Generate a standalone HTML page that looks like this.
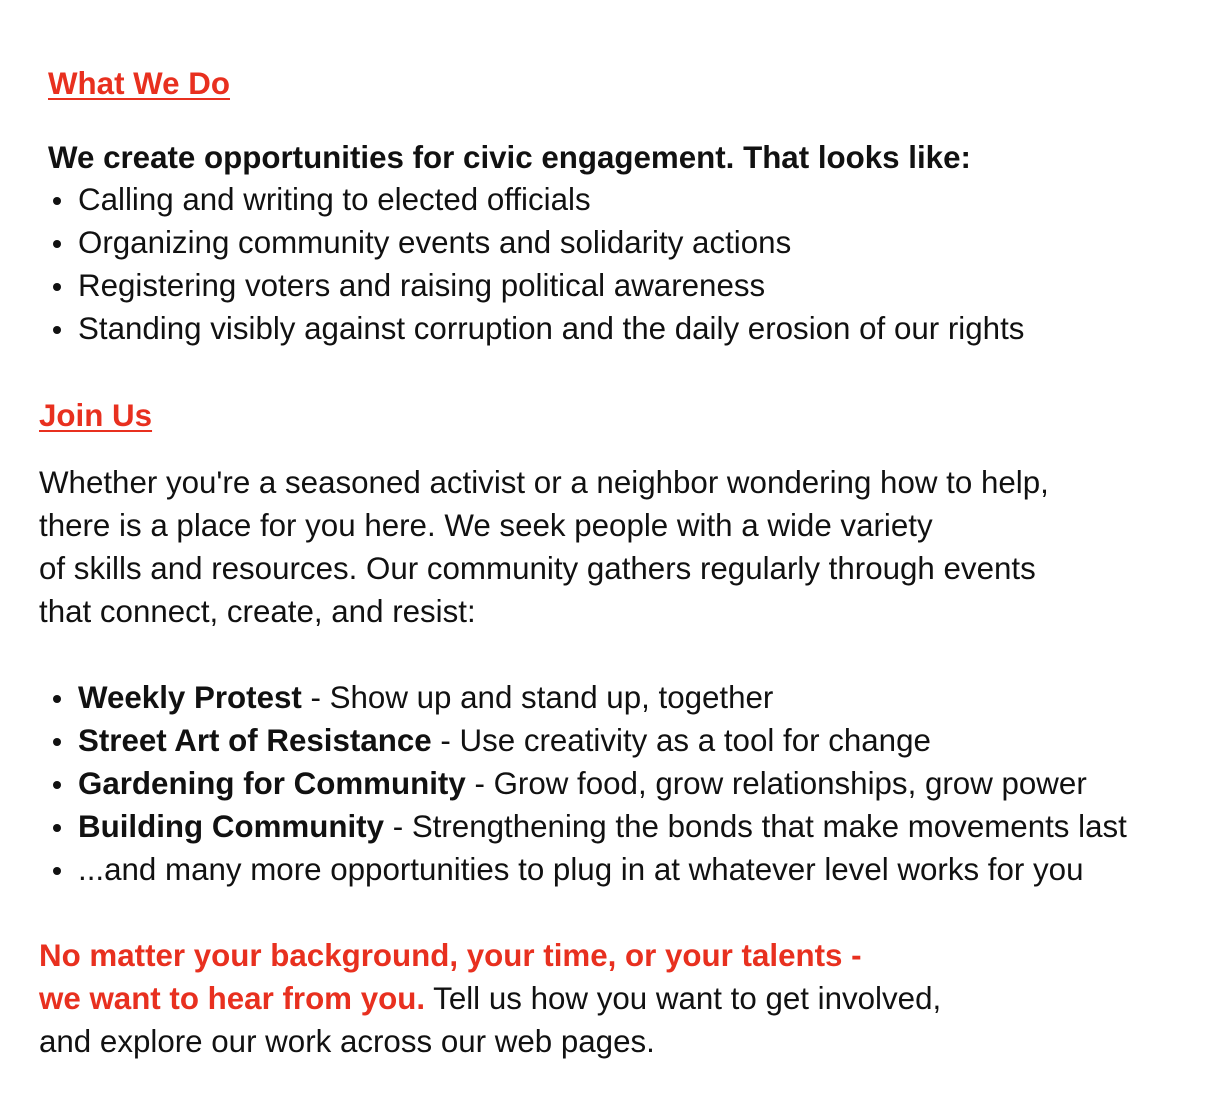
<!DOCTYPE html>
<html><head><meta charset="utf-8"><style>
body{margin:0;width:1213px;height:1100px;background:#fff;font-family:"Liberation Sans",Arial,sans-serif;color:#111;font-size:31.3px;position:relative;overflow:hidden}
.l{position:absolute;white-space:nowrap;line-height:43px}
.h{color:#e8301f;font-weight:bold;text-decoration:underline;text-decoration-thickness:2px;text-underline-offset:4px}
.r{color:#e8301f;font-weight:bold}
.b{font-weight:bold}
.dot{position:absolute;width:8px;height:8px;border-radius:50%;background:#111}
</style></head><body>
<div class="l h" style="left:48px;top:62px">What We Do</div>
<div class="l b" style="left:48px;top:136px">We create opportunities for civic engagement. That looks like:</div>
<div class="dot" style="left:53px;top:197px"></div><div class="l" style="left:78px;top:178px">Calling and writing to elected officials</div>
<div class="dot" style="left:53px;top:240px"></div><div class="l" style="left:78px;top:221px">Organizing community events and solidarity actions</div>
<div class="dot" style="left:53px;top:283px"></div><div class="l" style="left:78px;top:264px">Registering voters and raising political awareness</div>
<div class="dot" style="left:53px;top:326px"></div><div class="l" style="left:78px;top:307px">Standing visibly against corruption and the daily erosion of our rights</div>
<div class="l h" style="left:39px;top:394px">Join Us</div>
<div class="l" style="left:39px;top:461px">Whether you're a seasoned activist or a neighbor wondering how to help,</div>
<div class="l" style="left:39px;top:504px">there is a place for you here. We seek people with a wide variety</div>
<div class="l" style="left:39px;top:547px">of skills and resources. Our community gathers regularly through events</div>
<div class="l" style="left:39px;top:590px">that connect, create, and resist:</div>
<div class="dot" style="left:53px;top:695px"></div><div class="l" style="left:78px;top:676px"><span class="b">Weekly Protest</span> - Show up and stand up, together</div>
<div class="dot" style="left:53px;top:738px"></div><div class="l" style="left:78px;top:719px"><span class="b">Street Art of Resistance</span> - Use creativity as a tool for change</div>
<div class="dot" style="left:53px;top:781px"></div><div class="l" style="left:78px;top:762px"><span class="b">Gardening for Community</span> - Grow food, grow relationships, grow power</div>
<div class="dot" style="left:53px;top:824px"></div><div class="l" style="left:78px;top:805px"><span class="b">Building Community</span> - Strengthening the bonds that make movements last</div>
<div class="dot" style="left:53px;top:867px"></div><div class="l" style="left:78px;top:848px">...and many more opportunities to plug in at whatever level works for you</div>
<div class="l r" style="left:39px;top:934px">No matter your background, your time, or your talents -</div>
<div class="l" style="left:39px;top:977px"><span class="r">we want to hear from you.</span> Tell us how you want to get involved,</div>
<div class="l" style="left:39px;top:1020px">and explore our work across our web pages.</div>
</body></html>
